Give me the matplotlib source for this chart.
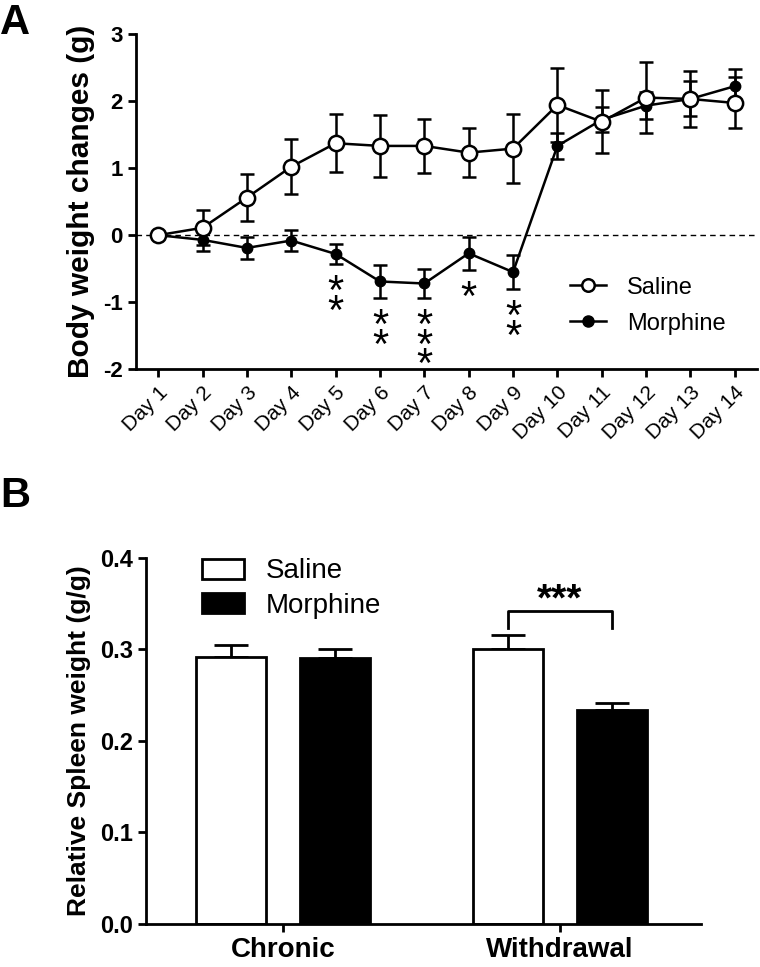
import matplotlib
matplotlib.use("Agg")
import matplotlib.pyplot as plt
from matplotlib.patches import Patch
from matplotlib.lines import Line2D
import numpy as np

plt.rcParams['font.family'] = ['Liberation Sans', 'DejaVu Sans']
plt.rcParams['axes.unicode_minus'] = False

# Panel A data: body weight change (g), mean and SEM
days = ['Day %d' % i for i in range(1, 15)]
saline_mean = [0.0, 0.11, 0.56, 1.02, 1.37, 1.33, 1.33, 1.23, 1.29, 1.94, 1.69, 2.05, 2.03, 1.97]
saline_err = [0.0, 0.26, 0.35, 0.41, 0.43, 0.46, 0.40, 0.37, 0.52, 0.55, 0.47, 0.53, 0.42, 0.38]
morph_mean = [0.0, -0.07, -0.19, -0.08, -0.28, -0.69, -0.72, -0.27, -0.55, 1.33, 1.72, 1.93, 2.03, 2.22]
morph_err = [0.0, 0.17, 0.16, 0.16, 0.15, 0.24, 0.21, 0.25, 0.25, 0.19, 0.19, 0.20, 0.26, 0.25]
# number of significance stars per day (0 = none)
stars_a = [0, 0, 0, 0, 2, 2, 3, 1, 2, 0, 0, 0, 0, 0]

# Panel B data: relative spleen weight (g/g)
groups = ['Chronic', 'Withdrawal']
spleen_saline = [0.292, 0.300]
spleen_saline_err = [0.013, 0.016]
spleen_morph = [0.291, 0.234]
spleen_morph_err = [0.010, 0.008]

fig = plt.figure(figsize=(7.6, 9.67), dpi=100)

# ---------------- Panel A ----------------
axA = fig.add_axes([0.179, 0.618, 0.817, 0.347])
x = np.arange(1, len(days) + 1)

axA.axhline(0, color='black', lw=1, ls=(0, (4, 3)), zorder=1)
axA.errorbar(x, morph_mean, yerr=morph_err, color='black', lw=1.8, elinewidth=1.8,
             capsize=5, capthick=1.8, marker='o', ms=7.5, mfc='black', mec='black',
             zorder=3)
axA.errorbar(x, saline_mean, yerr=saline_err, color='black', lw=1.8, elinewidth=1.8,
             capsize=5, capthick=1.8, marker='o', ms=11, mfc='white', mec='black',
             mew=1.8, zorder=4)

# significance stars stacked under the morphine error bars
for xi, m, e, n in zip(x, morph_mean, morph_err, stars_a):
    if n:
        axA.text(xi, m - e - 0.14, '\n'.join(['*'] * n), ha='center', va='top',
                 fontsize=30, linespacing=0.34)

axA.set_xlim(0.5, 14.5)
axA.set_ylim(-2, 3)
axA.set_yticks([-2, -1, 0, 1, 2, 3])
axA.set_xticks(x)
axA.set_xticklabels(days, rotation=45, ha='right', rotation_mode='anchor')
axA.set_ylabel('Body weight changes (g)', fontsize=21.5, fontweight='bold', labelpad=6)
for lab in axA.get_xticklabels():
    lab.set_fontsize(15)
for lab in axA.get_yticklabels():
    lab.set_fontweight('bold')
    lab.set_fontsize(16)
axA.spines['top'].set_visible(False)
axA.spines['right'].set_visible(False)
for s in ['left', 'bottom']:
    axA.spines[s].set_linewidth(2)
axA.tick_params(width=2, length=6)

handles = [Line2D([], [], color='black', lw=1.8, marker='o', ms=9, mfc='white', mew=1.8),
           Line2D([], [], color='black', lw=1.8, marker='o', ms=8, mfc='black')]
axA.legend(handles, ['Saline', 'Morphine'], loc='upper left', bbox_to_anchor=(0.665, 0.34),
           frameon=False, fontsize=17, handlelength=1.5, labelspacing=0.6, handletextpad=0.9)

fig.text(0.0, 0.997, 'A', fontsize=30, fontweight='bold', va='top', ha='left')

# ---------------- Panel B ----------------
axB = fig.add_axes([0.192, 0.0445, 0.730, 0.3785])
gx = np.arange(len(groups))
w = 0.253
off = 0.188
axB.bar(gx - off, spleen_saline, width=w, color='white', edgecolor='black', lw=2, zorder=2)
axB.bar(gx + off, spleen_morph, width=w, color='black', edgecolor='black', lw=2, zorder=2)
# upper error bars only
axB.errorbar(gx - off, spleen_saline, yerr=[np.zeros(len(groups)), spleen_saline_err],
             fmt='none', ecolor='black', elinewidth=2, capsize=12, capthick=2, zorder=1)
axB.errorbar(gx + off, spleen_morph, yerr=[np.zeros(len(groups)), spleen_morph_err],
             fmt='none', ecolor='black', elinewidth=2, capsize=12, capthick=2, zorder=1)

# significance bracket for withdrawal
bx0, bx1 = gx[1] - off, gx[1] + off
top = 0.342
axB.plot([bx0, bx0, bx1, bx1], [0.324, top, top, 0.324], color='black', lw=2)
axB.text(gx[1], top - 0.008, '***', ha='center', va='bottom', fontsize=28, fontweight='bold')

axB.set_xlim(-0.495, 1.51)
axB.set_ylim(0, 0.4)
axB.set_yticks([0.0, 0.1, 0.2, 0.3, 0.4])
axB.set_yticklabels(['0.0', '0.1', '0.2', '0.3', '0.4'])
axB.set_xticks(gx)
axB.set_xticklabels(groups)
axB.set_ylabel('Relative Spleen weight (g/g)', fontsize=19, fontweight='bold', labelpad=6)
for lab in axB.get_xticklabels():
    lab.set_fontweight('bold')
    lab.set_fontsize(20)
for lab in axB.get_yticklabels():
    lab.set_fontweight('bold')
    lab.set_fontsize(17)
axB.spines['top'].set_visible(False)
axB.spines['right'].set_visible(False)
for s in ['left', 'bottom']:
    axB.spines[s].set_linewidth(2)
axB.tick_params(width=2, length=6)

bh = [Patch(facecolor='white', edgecolor='black', lw=2),
      Patch(facecolor='black', edgecolor='black', lw=2)]
axB.legend(bh, ['Saline', 'Morphine'], loc='upper left', bbox_to_anchor=(0.056, 1.067),
           frameon=False, fontsize=20, handlelength=1.5, handleheight=0.75,
           labelspacing=0.3, handletextpad=0.8)

fig.text(0.0, 0.508, 'B', fontsize=30, fontweight='bold', va='top', ha='left')

fig.savefig('out.png', dpi=100)
